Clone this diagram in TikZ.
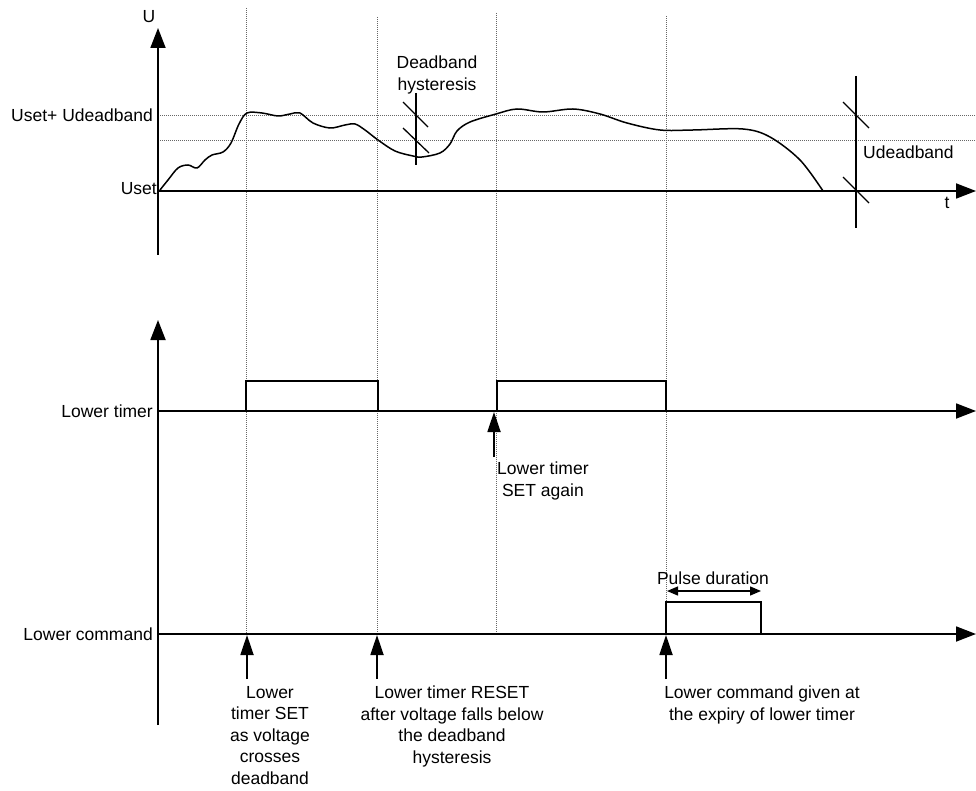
\documentclass[tikz,border=0pt]{standalone}
\usepackage{fontspec}
\setmainfont{Liberation Sans}
\usetikzlibrary{arrows.meta}
\begin{document}
\begin{tikzpicture}[x=1pt,y=-1pt,
  axis/.style={line width=1.8pt,black},
  axarrow/.style={axis,-{Triangle[width=15pt,length=20pt]}},
  uparrow/.style={line width=1.8pt,-{Triangle[width=13pt,length=20pt]}},
  guide/.style={line width=0.8pt,gray!80!black,dash pattern=on 1pt off 1pt},
  pulse/.style={line width=1.5pt},
  tick/.style={line width=1.3pt},
  lbl/.style={font=\fontsize{17.5}{21.5}\selectfont,inner sep=0pt},
  note/.style={lbl,align=center}]
\useasboundingbox (0,0) rectangle (976,791);
% guide lines
\draw[guide] (158,115) -- (976,115);
\draw[guide] (158,140) -- (976,140);
\draw[guide] (246,8) -- (246,634);
\draw[guide] (377,17) -- (377,634);
\draw[guide] (496,13) -- (496,634);
\draw[guide] (666,16) -- (666,634);
% top axes
\coordinate (uBot) at (158,255);
\coordinate (uTop) at (158,28);
\coordinate (tStart) at (158,191);
\coordinate (tEnd) at (976,191);
\draw[axarrow] (uBot) -- (uTop);
\draw[axarrow] (tStart) -- (tEnd);
\node[lbl] (U) at (149,17) {U};
\node[lbl] (t) at (947,203) {t};
\node[lbl,anchor=east] (usetdb) at (153,115) {Uset+ Udeadband};
\node[lbl,anchor=east] (uset) at (157,189) {Uset};
% voltage curve
\draw[line width=1.5pt] plot[smooth,tension=0.55] coordinates {
 (160,190) (168,180) (178,168) (188,165) (197,168) (205,160) (212,155)
 (223,152) (231,143) (239,124) (247,113) (262,113) (278,116) (290,114)
 (300,113) (313,123) (330,128) (345,125) (355,124) (365,130) (378,140)
 (395,151) (413,156) (422,157) (440,153) (450,144) (457,131) (470,122)
 (496,114) (517,109) (543,112) (573,109) (600,114) (627,123) (660,130)
 (693,130) (743,129) (770,137) (800,160) (823,191)};
% deadband hysteresis marker
\draw[tick] (416,93) -- (416,165);
\draw[tick] (403,102) -- (428,127);
\draw[tick] (403,128) -- (429,153);
\node[note] (dbh) at (437,75) {Deadband\\hysteresis};
% Udeadband marker
\draw[tick] (856,76) -- (856,228);
\draw[tick] (843,102) -- (869,128);
\draw[tick] (843,177) -- (869,203);
\node[lbl,anchor=west] (udb) at (863,152) {Udeadband};
% lower timer / command axes
\coordinate (mBot) at (158,725);
\coordinate (mTop) at (158,320);
\draw[axarrow] (mBot) -- (mTop);
\coordinate (ltStart) at (158,411);
\coordinate (ltEnd) at (976,411);
\draw[axarrow] (ltStart) -- (ltEnd);
\coordinate (lcStart) at (158,634);
\coordinate (lcEnd) at (976,634);
\draw[axarrow] (lcStart) -- (lcEnd);
\node[lbl,anchor=east] (lt) at (153,411) {Lower timer};
\node[lbl,anchor=east] (lc) at (153,634) {Lower command};
% timer pulses
\draw[pulse] (246,411) -- (246,381) -- (378,381) -- (378,411);
\draw[pulse] (497,411) -- (497,381) -- (666,381) -- (666,411);
% command pulse
\draw[pulse] (666,634) -- (666,602) -- (761,602) -- (761,634);
\coordinate (pdA) at (667,591);
\coordinate (pdB) at (761,591);
\draw[line width=1.3pt,{Triangle[width=9pt,length=11pt]}-{Triangle[width=9pt,length=11pt]}] (pdA) -- (pdB);
\node[lbl] (pd) at (713,578) {Pulse duration};
% event arrows
\coordinate (a0b) at (494,457); \coordinate (a0t) at (494,412);
\draw[uparrow] (a0b) -- (a0t);
\node[lbl,anchor=north west,align=left] (again) at (497,462) {Lower timer\\\ SET again};
\coordinate (a1b) at (247,679); \coordinate (a1t) at (247,635);
\coordinate (a2b) at (377,679); \coordinate (a2t) at (377,635);
\coordinate (a3b) at (666,679); \coordinate (a3t) at (666,635);
\draw[uparrow] (a1b) -- (a1t);
\draw[uparrow] (a2b) -- (a2t);
\draw[uparrow] (a3b) -- (a3t);
\node[note,anchor=north] (n1) at (270,686) {Lower\\timer SET\\as voltage\\crosses\\deadband};
\node[note,anchor=north] (n2) at (452,686) {Lower timer RESET\\after voltage falls below\\the deadband\\hysteresis};
\node[note,anchor=north] (n3) at (762,686) {Lower command given at\\the expiry of lower timer};
\end{tikzpicture}
\end{document}
